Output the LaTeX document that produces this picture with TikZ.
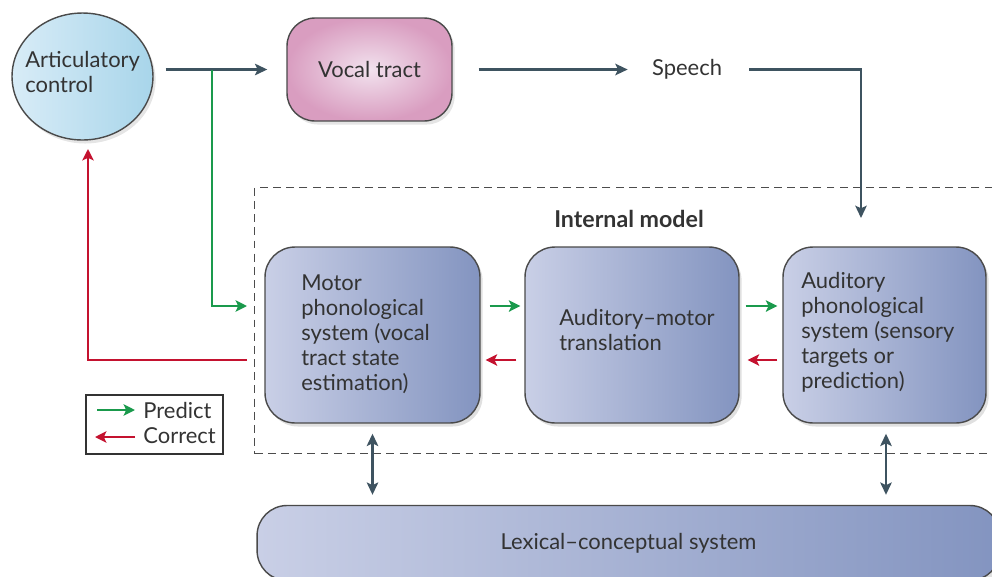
\documentclass[tikz,border=0pt]{standalone}
\usepackage{fontspec}
\setmainfont{Lato}
\usetikzlibrary{arrows.meta,shadows,shapes.geometric,calc}
\definecolor{slate}{HTML}{3E5360}
\definecolor{pgreen}{HTML}{1A9A4C}
\definecolor{cred}{HTML}{C4122F}
\definecolor{boxL}{HTML}{C9CFE6}
\definecolor{boxR}{HTML}{8394C0}
\definecolor{boxline}{HTML}{4A4A4A}
\definecolor{circL}{HTML}{D8ECF7}
\definecolor{circR}{HTML}{A8D5EA}
\definecolor{pinkIn}{HTML}{F2E2EE}
\definecolor{pinkOut}{HTML}{D99DC0}
\definecolor{txt}{HTML}{333333}
\tikzset{
  box/.style={draw=boxline, line width=0.8pt, rounded corners=0.6cm,
    left color=boxL, right color=boxR,
    drop shadow={shadow xshift=1.5pt, shadow yshift=-2pt, opacity=0.12, fill=black}},
  txtnode/.style={inner sep=0pt, text=txt, align=left},
  arr/.style={draw=slate, line width=1.5pt, -{Stealth[length=7pt,width=6.5pt,inset=1.5pt]}},
  darr/.style={draw=slate, line width=1.5pt, {Stealth[length=7pt,width=6.5pt,inset=1.5pt]}-{Stealth[length=7pt,width=6.5pt,inset=1.5pt]}},
  garr/.style={draw=pgreen, line width=1.4pt, -{Stealth[length=6.5pt,width=6.5pt,inset=1.5pt]}},
  rarr/.style={draw=cred, line width=1.4pt, -{Stealth[length=6.5pt,width=6.5pt,inset=1.5pt]}},
}
\begin{document}
\begin{tikzpicture}[x=0.02cm,y=-0.02cm, font=\fontsize{12.5}{14.2}\selectfont]
\useasboundingbox (0,0) rectangle (992,576);

% dashed internal model frame
\node[draw=black!70, dashed, dash pattern=on 4.5pt off 3pt, line width=0.8pt,
  minimum width=15cm, minimum height=5.32cm, anchor=north west, inner sep=0pt] (frame) at (254,187) {};
\node[txtnode, font=\fontsize{13.2}{15}\selectfont\bfseries] (imlabel) at (629,219) {Internal model};

% top row
\node[ellipse, draw=boxline, line width=0.8pt, left color=circL, right color=circR,
  minimum width=2.82cm, minimum height=2.54cm, inner sep=0pt,
  drop shadow={shadow xshift=1.5pt, shadow yshift=-2pt, opacity=0.10, fill=black}] (art) at (82.5,76.5) {};
\node[txtnode, anchor=west] (arttext) at (25,72) {Articulatory\\control};

\node[draw=boxline, line width=0.8pt, rounded corners=0.56cm, shading=radial,
  inner color=pinkIn, outer color=pinkOut, minimum width=3.3cm, minimum height=2.06cm,
  drop shadow={shadow xshift=1.5pt, shadow yshift=-2pt, opacity=0.10, fill=black},
  text=txt] (vt) at (369.5,69.5) {Vocal tract};

\node[txtnode] (sp) at (687,69.5) {Speech};

% internal model boxes
\node[box, minimum width=4.3cm, minimum height=3.52cm] (mp) at (372.5,335) {};
\node[txtnode, anchor=west] (mptext) at (301,334) {Motor\\phonological\\system (vocal\\tract state\\estimation)};

\node[box, minimum width=4.28cm, minimum height=3.52cm] (am) at (632,335) {};
\node[txtnode, anchor=west] (amtext) at (559,330) {Auditory--motor\\translation};

\node[box, minimum width=4.06cm, minimum height=3.52cm] (ap) at (884.5,335) {};
\node[txtnode, anchor=west] (aptext) at (801,332) {Auditory\\phonological\\system (sensory\\targets or\\prediction)};

% lexical
\node[box, minimum width=14.86cm, minimum height=1.5cm, text=txt] (lex) at (628.5,543) {Lexical--conceptual system};

% legend
\node[draw=txt, line width=0.9pt, minimum width=2.74cm, minimum height=1.18cm, inner sep=0pt] (leg) at (154.5,424.5) {};
\coordinate (lgA) at (97,410);
\coordinate (lgB) at (135,410);
\coordinate (lrA) at (135,437);
\coordinate (lrB) at (95,437);
\draw[garr] (lgA) -- (lgB);
\draw[rarr] (lrA) -- (lrB);
\node[txtnode, anchor=west] (lgtext) at (143,410) {Predict};
\node[txtnode, anchor=west] (lrtext) at (143,436) {Correct};

% connectors
\coordinate (gj) at (212,69.5);
\coordinate (gIn) at (247,306);
\coordinate (rOut) at (247,360);
\coordinate (rTip) at (88,149);
\coordinate (apIn) at (861,218);

\draw[arr] ([xshift=0.24cm]art.east |- vt.west) -- ([xshift=-0.38cm]vt.west);
\draw[garr] (gj) |- (gIn);
\draw[arr] ([xshift=0.52cm]vt.east) -- ([xshift=-0.48cm]sp.west);
\draw[arr] ([xshift=0.54cm]sp.east) -| (apIn);
\draw[rarr] (rOut) -| (rTip);

\draw[garr] ([xshift=0.18cm,yshift=0.58cm]mp.east) -- ([xshift=-0.08cm,yshift=0.58cm]am.west);
\draw[rarr] ([xshift=-0.16cm,yshift=-0.5cm]am.west) -- ([xshift=0.1cm,yshift=-0.5cm]mp.east);
\draw[garr] ([xshift=0.12cm,yshift=0.58cm]am.east) -- ([xshift=-0.1cm,yshift=0.58cm]ap.west);
\draw[rarr] ([xshift=-0.1cm,yshift=-0.5cm]ap.west) -- ([xshift=0.16cm,yshift=-0.5cm]am.east);

\draw[darr] ([yshift=-0.2cm]mp.south) -- ([yshift=0.2cm]lex.north -| mp.south);
\draw[darr] ([xshift=0.03cm,yshift=-0.2cm]ap.south) -- ([xshift=0.03cm,yshift=0.2cm]lex.north -| ap.south);
\end{tikzpicture}
\end{document}
